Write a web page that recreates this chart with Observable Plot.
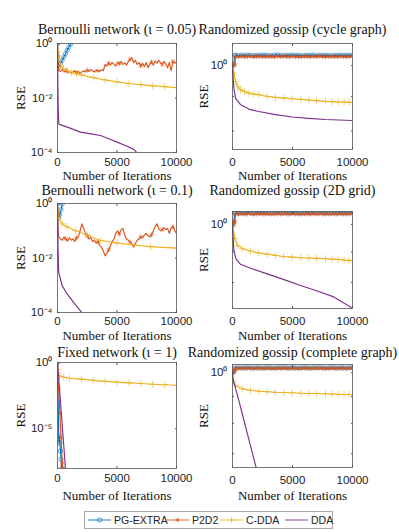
<!DOCTYPE html>
<html><head><meta charset="utf-8">
<script src="https://cdn.jsdelivr.net/npm/d3@7"></script>
<script src="https://cdn.jsdelivr.net/npm/@observablehq/plot@0.6"></script>
<style>
body{margin:0;background:#fff;}
#wrap{position:relative;width:399px;height:532px;overflow:hidden;background:#fff;}
.panel{position:absolute;}
.panel svg{overflow:visible;max-width:none;}
#legend{position:absolute;left:84px;top:511px;width:249px;height:18px;border:1px solid #a8a8a8;box-sizing:border-box;background:#fff;font:10.5px "Liberation Sans",Arial,sans-serif;color:#222;}
#legend .it{position:absolute;top:0;height:16px;display:flex;align-items:center;}
#legend svg{display:block;}
</style></head><body><div id="wrap"></div>
<script>
// ---------- shared ----------
const seriesNames = ["PG-EXTRA", "P2D2", "C-DDA", "DDA"];
const seriesColors = ["#0072BD", "#D95319", "#EDB120", "#7E2F8E"];
const seriesSymbols = ["circle", "asterisk", "plus", null];
const xTicks = [0, 5000, 10000];
const xTickLabels = ["0", "5000", "10000"];
const xLabel = "Number of Iterations";
const yLabel = "RSE";

const xNoisy = [0,40,100,250,400,550,700,850,1000,1150,1300,1450,1600,1750,1900,2050,2200,2350,2500,2650,2800,2950,3100,3250,3400,3550,3700,3850,4000,4150,4300,4450,4600,4750,4900,5050,5200,5350,5500,5650,5800,5950,6100,6250,6400,6550,6700,6850,7000,7150,7300,7450,7600,7750,7900,8050,8200,8350,8500,8650,8800,8950,9100,9250,9400,9550,9700,9850,10000];
const xDense = [0,100,200,250,500,750,1000,1250,1500,1750,2000,2250,2500,2750,3000,3250,3500,3750,4000,4250,4500,4750,5000,5250,5500,5750,6000,6250,6500,6750,7000,7250,7500,7750,8000,8250,8500,8750,9000,9250,9500,9750,10000];

// ---------- A: Bernoulli network (iota = 0.05) ----------
const titleA = "Bernoulli network (ι = 0.05)";
const yDomainA = [1e-4, 1];
const yTicksA = [1e-4, 1e-2, 1];
const yTickLabelsA = ["10⁻⁴", "10⁻²", "10⁰"];
const A_pg_x = [0, 30, 60, 110, 250, 390, 530, 670, 810, 950, 1100, 1250];
const A_pg_y = [1, 0.35, 0.18, 0.135, 0.18, 0.24, 0.32, 0.42, 0.56, 0.73, 0.95, 1.25];
const A_p2_y = [1,0.2,0.1,0.095,0.11,0.09,0.1,0.085,0.095,0.08,
  0.09,0.1,0.085,0.095,0.08,0.09,0.1,0.09,0.105,0.095,
  0.11,0.1,0.09,0.105,0.1,0.095,0.11,0.1,0.17,0.15,
  0.19,0.16,0.2,0.17,0.15,0.21,0.18,0.22,0.17,0.2,
  0.16,0.22,0.26,0.3,0.2,0.24,0.17,0.2,0.15,0.19,
  0.14,0.2,0.13,0.17,0.21,0.16,0.23,0.19,0.24,0.2,
  0.17,0.22,0.18,0.13,0.2,0.1,0.22,0.19,0.21];
const A_cd_x = [0, 30, 110, 250, 500, 840, 1200, 1600, 2000, 3000, 4000, 5000, 6000, 7000, 8000, 9000, 10000];
const A_cd_y = [1, 0.5, 0.27, 0.155, 0.12, 0.1, 0.088, 0.078, 0.07, 0.056, 0.046, 0.039, 0.034, 0.031, 0.028, 0.026, 0.024];
const A_dd_x = [0, 30, 60, 110, 500, 1000, 1930, 2800, 3610, 4300, 5010, 5700, 6410, 7000];
const A_dd_y = [1, 0.03, 0.004, 0.0011, 0.00095, 0.0008, 0.00056, 0.00048, 0.00042, 0.00032, 0.00024, 0.00018, 0.00013, 0.00007];

// ---------- B: Bernoulli network (iota = 0.1) ----------
const titleB = "Bernoulli network (ι = 0.1)";
const yDomainB = [1e-4, 1];
const yTicksB = [1e-4, 1e-2, 1];
const yTickLabelsB = ["10⁻⁴", "10⁻²", "10⁰"];
const B_pg_x = [0, 50, 100, 200, 300, 400, 500];
const B_pg_y = [1, 0.4, 0.3, 0.4, 0.6, 0.95, 1.4];
const B_p2_y = [1,0.15,0.06,0.05,0.045,0.06,0.05,0.042,0.055,0.045,
  0.05,0.04,0.055,0.06,0.1,0.18,0.12,0.08,0.065,0.05,
  0.055,0.04,0.045,0.035,0.04,0.028,0.025,0.018,0.012,0.015,
  0.02,0.028,0.04,0.05,0.08,0.1,0.075,0.11,0.12,0.07,
  0.05,0.045,0.038,0.032,0.025,0.035,0.045,0.05,0.06,0.055,
  0.07,0.08,0.065,0.06,0.07,0.1,0.14,0.18,0.12,0.1,
  0.11,0.13,0.11,0.12,0.08,0.13,0.14,0.1,0.08];
const B_cd_x = [0, 30, 110, 390, 800, 1530, 2520, 3610, 5010, 6410, 7820, 10000];
const B_cd_y = [1, 0.5, 0.28, 0.18, 0.14, 0.1, 0.068, 0.044, 0.035, 0.03, 0.026, 0.023];
const B_dd_x = [0, 40, 100, 390, 810, 1370, 1930, 2300];
const B_dd_y = [1, 0.03, 0.003, 0.00097, 0.00048, 0.00023, 0.000115, 0.00007];

// ---------- C: Fixed network (iota = 1) ----------
const titleC = "Fixed network (ι = 1)";
const yDomainC = [1e-8, 1];
const yTicksC = [1e-5, 1];
const yTickLabelsC = ["10⁻⁵", "10⁰"];
const C_pg_x = [0, 60, 110, 150, 200, 250, 300, 350, 400];
const C_pg_y = [1, 1e-3, 1e-6, 3e-6, 8e-7, 2e-7, 5e-8, 1e-8, 2e-9];
const C_p2_x = [0, 100, 200, 300, 400, 450, 500];
const C_p2_y = [1, 1e-2, 1.5e-4, 2e-6, 2.5e-8, 1e-8, 3e-9];
const C_cd_x = [0, 20, 60, 150, 500, 1000, 2000, 3000, 4000, 5000, 6000, 7000, 8000, 9000, 10000];
const C_cd_y = [1, 0.3, 0.14, 0.1, 0.08, 0.065, 0.055, 0.045, 0.038, 0.033, 0.029, 0.026, 0.023, 0.021, 0.019];
const C_dd_x = [0, 200, 400, 600, 700];
const C_dd_y = [1, 4e-3, 1.7e-5, 7e-8, 4e-9];

// ---------- D: Randomized gossip (cycle graph) ----------
const titleD = "Randomized gossip (cycle graph)";
const yDomainD = [0.751, 1.078];
const yTicksD = [0.8, 0.9, 1];
const yTickLabelsD = ["", "", "10⁰"];
const D_pg_y = [1.0,1.005,1.035,1.036,1.034,1.036,1.035,1.037,1.035,1.034,
  1.036,1.035,1.037,1.036,1.034,1.035,1.036,1.038,1.035,1.034,
  1.036,1.035,1.037,1.035,1.036,1.034,1.035,1.036,1.035,1.037,
  1.034,1.036,1.035,1.036,1.035,1.034,1.036,1.035,1.036,1.035,
  1.036,1.035,1.036];
const D_p2_y = [1.0,1.0,1.003,1.03,1.031,1.032,1.03,1.031,1.033,1.03,
  1.031,1.032,1.03,1.031,1.032,1.031,1.03,1.032,1.031,1.033,
  1.031,1.03,1.032,1.031,1.03,1.031,1.032,1.031,1.03,1.032,
  1.031,1.033,1.031,1.03,1.031,1.032,1.031,1.03,1.032,1.031,
  1.03,1.032,1.031];
const D_cd_x = [0, 110, 250, 450, 670, 1000, 1360, 1800, 2190, 2900, 3580, 4300, 4970, 5700, 6360, 7000, 7750, 8300, 8800, 9300, 9700, 10000];
const D_cd_y = [1.0, 0.975, 0.947, 0.93, 0.921, 0.915, 0.91, 0.907, 0.905, 0.9, 0.897, 0.895, 0.893, 0.891, 0.889, 0.887, 0.885, 0.884, 0.883, 0.883, 0.882, 0.882];
const D_dd_x = [0, 50, 110, 250, 670, 1360, 2190, 3580, 4970, 6360, 7750, 10000];
const D_dd_y = [1.0, 0.96, 0.926, 0.895, 0.875, 0.862, 0.855, 0.846, 0.839, 0.835, 0.832, 0.829];

// ---------- E: Randomized gossip (2D grid) ----------
const titleE = "Randomized gossip (2D grid)";
const yDomainE = [0.724, 1.051];
const yTicksE = [0.8, 0.9, 1];
const yTickLabelsE = ["", "", "10⁰"];
const E_pg_y = [1.0,1.01,1.045,1.046,1.044,1.046,1.045,1.047,1.045,1.044,
  1.046,1.045,1.047,1.046,1.044,1.045,1.046,1.047,1.045,1.044,
  1.046,1.045,1.047,1.045,1.046,1.044,1.045,1.046,1.045,1.047,
  1.044,1.046,1.045,1.046,1.045,1.044,1.046,1.045,1.046,1.045,
  1.046,1.045,1.046];
const E_p2_y = [1.0,1.0,1.01,1.04,1.041,1.042,1.04,1.041,1.043,1.04,
  1.041,1.042,1.04,1.041,1.042,1.041,1.04,1.042,1.041,1.043,
  1.041,1.04,1.042,1.041,1.04,1.041,1.042,1.041,1.04,1.042,
  1.041,1.043,1.041,1.04,1.041,1.042,1.041,1.04,1.042,1.041,
  1.04,1.042,1.041];
const E_cd_x = [0, 30, 195, 390, 810, 1500, 2190, 2900, 3580, 4250, 4970, 5700, 6360, 7000, 7750, 8300, 8800, 9300, 9700, 10000];
const E_cd_y = [1.0, 0.99, 0.947, 0.923, 0.911, 0.903, 0.896, 0.892, 0.888, 0.884, 0.882, 0.88, 0.879, 0.878, 0.877, 0.875, 0.874, 0.872, 0.871, 0.87];
const E_dd_x = [0, 40, 110, 300, 670, 1500, 2890, 4300, 5670, 7000, 8440, 10000];
const E_dd_y = [1.0, 0.96, 0.905, 0.875, 0.858, 0.845, 0.827, 0.809, 0.791, 0.775, 0.757, 0.725];

// ---------- F: Randomized gossip (complete graph) ----------
const titleF = "Randomized gossip (complete graph)";
const yDomainF = [0.659, 1.036];
const yTicksF = [0.7, 0.8, 0.9, 1];
const yTickLabelsF = ["", "", "", "10⁰"];
const F_pg_y = [1.0,1.005,1.015,1.021,1.022,1.02,1.021,1.022,1.021,1.02,
  1.022,1.021,1.02,1.021,1.022,1.021,1.02,1.022,1.021,1.022,
  1.021,1.02,1.022,1.021,1.02,1.021,1.022,1.021,1.02,1.022,
  1.021,1.022,1.021,1.02,1.021,1.022,1.021,1.02,1.022,1.021,
  1.02,1.022,1.021];
const F_p2_y = [1.0,1.0,1.008,1.018,1.019,1.02,1.018,1.019,1.02,1.018,
  1.019,1.02,1.018,1.019,1.02,1.019,1.018,1.02,1.019,1.02,
  1.019,1.018,1.02,1.019,1.018,1.019,1.02,1.019,1.018,1.02,
  1.019,1.02,1.019,1.018,1.019,1.02,1.019,1.018,1.02,1.019,
  1.018,1.02,1.019];
const F_cd_x = [0, 30, 250, 810, 1500, 2190, 2900, 3580, 4300, 4970, 5700, 6360, 7000, 7750, 8300, 8800, 9300, 9700, 10000];
const F_cd_y = [1.0, 0.965, 0.944, 0.931, 0.925, 0.921, 0.919, 0.917, 0.916, 0.915, 0.913, 0.912, 0.912, 0.911, 0.91, 0.909, 0.908, 0.908, 0.907];
const F_dd_x = [0, 30, 100, 500, 1000, 1500, 2000, 2200];
const F_dd_y = [1.0, 0.98, 0.96, 0.89, 0.803, 0.725, 0.655, 0.63];

// ---------- panel definitions (data refs) ----------
const panelData = [
  {title: titleA, yDomain: yDomainA, yTicks: yTicksA, yTickLabels: yTickLabelsA,
   series: [[A_pg_x, A_pg_y], [xNoisy, A_p2_y], [A_cd_x, A_cd_y], [A_dd_x, A_dd_y]]},
  {title: titleD, yDomain: yDomainD, yTicks: yTicksD, yTickLabels: yTickLabelsD,
   series: [[xDense, D_pg_y], [xDense, D_p2_y], [D_cd_x, D_cd_y], [D_dd_x, D_dd_y]]},
  {title: titleB, yDomain: yDomainB, yTicks: yTicksB, yTickLabels: yTickLabelsB,
   series: [[B_pg_x, B_pg_y], [xNoisy, B_p2_y], [B_cd_x, B_cd_y], [B_dd_x, B_dd_y]]},
  {title: titleE, yDomain: yDomainE, yTicks: yTicksE, yTickLabels: yTickLabelsE,
   series: [[xDense, E_pg_y], [xDense, E_p2_y], [E_cd_x, E_cd_y], [E_dd_x, E_dd_y]]},
  {title: titleC, yDomain: yDomainC, yTicks: yTicksC, yTickLabels: yTickLabelsC,
   series: [[C_pg_x, C_pg_y], [C_p2_x, C_p2_y], [C_cd_x, C_cd_y], [C_dd_x, C_dd_y]]},
  {title: titleF, yDomain: yDomainF, yTicks: yTicksF, yTickLabels: yTickLabelsF,
   series: [[xDense, F_pg_y], [xDense, F_p2_y], [F_cd_x, F_cd_y], [F_dd_x, F_dd_y]]}
];

// ---------- layout / style ----------
const layouts = [
  {left: 0,   top: 0,   width: 200, ml: 57, mr: 24, mt: 43, fh: 109, titleDy: -14, tickOff: 5, xlabDy: 23, rseDx: -37, every: [1, 6, 1, 0]},
  {left: 200, top: 0,   width: 199, ml: 32, mr: 47, mt: 43, fh: 106, titleDy: -14, tickOff: 8, xlabDy: 26, rseDx: -29, every: [1, 1, 1, 0]},
  {left: 0,   top: 180, width: 200, ml: 57, mr: 24, mt: 23, fh: 109, titleDy: -13, tickOff: 4, xlabDy: 23, rseDx: -37, every: [1, 6, 1, 0]},
  {left: 200, top: 180, width: 199, ml: 32, mr: 47, mt: 31, fh: 97,  titleDy: -21, tickOff: 8, xlabDy: 27, rseDx: -29, every: [1, 1, 1, 0]},
  {left: 0,   top: 340, width: 200, ml: 57, mr: 24, mt: 22, fh: 106, titleDy: -10, tickOff: 5, xlabDy: 27, rseDx: -37, every: [1, 1, 1, 0]},
  {left: 200, top: 340, width: 199, ml: 32, mr: 47, mt: 24, fh: 103, titleDy: -12, tickOff: 8, xlabDy: 28, rseDx: -29, every: [1, 1, 1, 0]}
];
const TS = -2; // inward ticks
const serif = "'Liberation Serif', 'Times New Roman', serif";
const sans = "'Liberation Sans', Arial, sans-serif";

const wrap = document.getElementById("wrap");

panelData.forEach((p, idx) => {
  const L = layouts[idx];
  const marks = [];
  p.series.forEach(([xs, ys], k) => {
    const pts = xs.map((x, i) => ({x, y: ys[i], i}));
    marks.push(Plot.line(pts, {x: "x", y: "y", stroke: seriesColors[k], strokeWidth: 1.15, clip: true}));
    const ev = L.every[k];
    if (seriesSymbols[k] && ev > 0) {
      marks.push(Plot.dot(pts.filter(d => d.i % ev === 0), {
        x: "x", y: "y", symbol: seriesSymbols[k], r: k === 0 ? 2.1 : 2.4,
        stroke: seriesColors[k], fill: "none", strokeWidth: 0.8, strokeOpacity: 0.75, clip: true
      }));
    }
  });
  const yfmt = d => { const j = p.yTicks.indexOf(d); return j >= 0 ? p.yTickLabels[j] : ""; };
  const xfmt = d => { const j = xTicks.indexOf(d); return j >= 0 ? xTickLabels[j] : ""; };
  marks.push(
    Plot.frame({stroke: "#555", strokeWidth: 0.8}),
    Plot.axisX({anchor: "bottom", ticks: xTicks, tickFormat: xfmt, tickSize: TS, tickPadding: L.tickOff - TS, label: null, fontSize: 11.5, fill: "#222", stroke: "#555"}),
    Plot.axisX({anchor: "top", ticks: xTicks, tickFormat: () => "", tickSize: TS, label: null, stroke: "#555"}),
    Plot.axisY({anchor: "left", ticks: p.yTicks, tickFormat: yfmt, tickSize: TS, tickPadding: 5 - TS, label: null, fontSize: 11.5, fill: "#222", stroke: "#555"}),
    Plot.axisY({anchor: "right", ticks: p.yTicks, tickFormat: () => "", tickSize: TS, label: null, stroke: "#555"}),
    Plot.text([p.title], {text: d => d, frameAnchor: "top", dy: L.titleDy, lineAnchor: "middle", textAnchor: "middle", fontFamily: serif, fontSize: 14, fill: "#111"}),
    Plot.text([xLabel], {text: d => d, frameAnchor: "bottom", dy: L.xlabDy, lineAnchor: "middle", textAnchor: "middle", fontFamily: serif, fontSize: 13, fill: "#111"}),
    Plot.text([yLabel], {text: d => d, frameAnchor: "left", dx: L.rseDx, rotate: -90, lineAnchor: "middle", textAnchor: "middle", fontFamily: serif, fontSize: 13, fill: "#111"})
  );
  const chart = Plot.plot({
    width: L.width, height: L.mt + L.fh + 40,
    marginLeft: L.ml, marginRight: L.mr, marginTop: L.mt, marginBottom: 40,
    x: {domain: [0, 10000]},
    y: {type: "log", domain: p.yDomain},
    style: {overflow: "visible", fontFamily: sans, fontSize: "11.5px", background: "transparent", color: "#222"},
    marks
  });
  const div = document.createElement("div");
  div.className = "panel";
  div.style.left = L.left + "px";
  div.style.top = L.top + "px";
  div.appendChild(chart);
  wrap.appendChild(div);
});

// ---------- legend ----------
const legendPos = [[2, 27], [80, 107], [134, 161], [199, 226]];
const legend = document.createElement("div");
legend.id = "legend";
seriesNames.forEach((name, k) => {
  const it = document.createElement("div");
  it.className = "it";
  it.style.left = legendPos[k][0] + "px";
  const ns = "http://www.w3.org/2000/svg";
  const svg = document.createElementNS(ns, "svg");
  svg.setAttribute("width", 25); svg.setAttribute("height", 10);
  const ln = document.createElementNS(ns, "line");
  ln.setAttribute("x1", 1); ln.setAttribute("x2", 24); ln.setAttribute("y1", 5); ln.setAttribute("y2", 5);
  ln.setAttribute("stroke", seriesColors[k]); ln.setAttribute("stroke-width", 1.2); ln.setAttribute("stroke-opacity", 0.75);
  svg.appendChild(ln);
  if (seriesSymbols[k]) {
    const sym = {circle: d3.symbolCircle, asterisk: d3.symbolAsterisk, plus: d3.symbolPlus}[seriesSymbols[k]];
    const pth = document.createElementNS(ns, "path");
    pth.setAttribute("d", d3.symbol(sym, 14)());
    pth.setAttribute("transform", "translate(12.5,5)");
    pth.setAttribute("fill", "none"); pth.setAttribute("stroke", seriesColors[k]); pth.setAttribute("stroke-width", 0.9); pth.setAttribute("stroke-opacity", 0.8);
    svg.appendChild(pth);
  }
  it.appendChild(svg);
  const sp = document.createElement("span");
  sp.textContent = name;
  sp.style.marginLeft = "2px";
  it.appendChild(sp);
  legend.appendChild(it);
});
wrap.appendChild(legend);
</script>
</body></html>
